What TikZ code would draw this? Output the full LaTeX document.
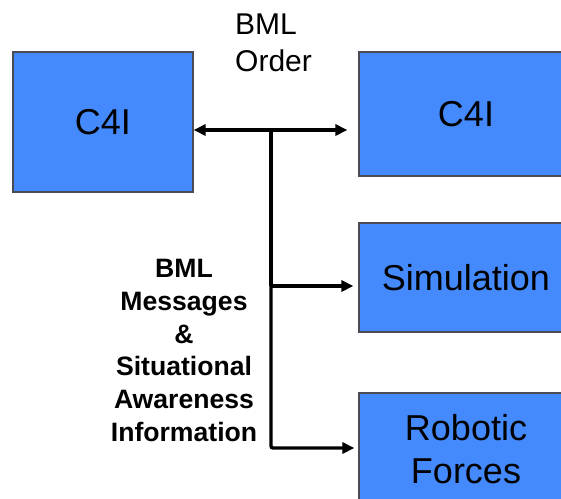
\documentclass[tikz,border=0pt]{standalone}
\usepackage{fontspec}
\setmainfont{Liberation Sans}
\usetikzlibrary{arrows.meta}
\definecolor{boxblue}{RGB}{68,138,252}
\definecolor{boxedge}{RGB}{75,75,85}
\tikzset{
  unitbox/.style={draw=boxedge, line width=1.2pt, fill=boxblue, inner sep=0pt,
    align=center, font=\fontsize{36}{43}\selectfont},
  link/.style={line width=3.4pt, -{Triangle[length=12pt,width=11pt]}},
  duallink/.style={line width=3.4pt, {Triangle[length=12pt,width=11pt]}-{Triangle[length=12pt,width=11pt]}},
  tag/.style={inner sep=0pt, align=center},
}
\begin{document}
\begin{tikzpicture}[x=1pt,y=-1pt]
\useasboundingbox (0,0) rectangle (561,498);
\begin{scope}
\clip (0,0) rectangle (561,498);
% command posts and receivers
\node[unitbox, minimum width=180pt, minimum height=140pt] (c4ia) at (103,122) {C4I};
\node[unitbox, minimum width=214pt, minimum height=124pt] (c4ib) at (466,114) {C4I};
\node[unitbox, minimum width=214pt, minimum height=109pt] (sim) at (466,277.5) {Simulation};
\node[unitbox, minimum width=214pt, minimum height=112pt] (robot) at (466,449) {Robotic\\Forces};
\end{scope}
% labels
\node[tag, anchor=north west, font=\fontsize{30}{37}\selectfont, align=left] (order) at (235,14) {BML\\Order};
\node[tag, anchor=north, font=\bfseries\fontsize{26.6}{32.8}\selectfont] (msgs) at (184,259)
  {BML\\Messages\\\&\\Situational\\Awareness\\Information};
% connectors
\coordinate (hub) at (271,130);
\coordinate (knee) at (271,448);
\draw[duallink, shorten >=11pt] (c4ia.east |- hub) -- (c4ib.west |- hub);
\draw[line width=3.4pt] (hub) -- (271,286);
\draw[link, shorten >=5pt] (271,286) -- (sim.west |- 0,286);
\draw[link, shorten >=4pt, rounded corners=2pt] (271,284) -- (knee) -- (robot.west |- knee);
\end{tikzpicture}
\end{document}
